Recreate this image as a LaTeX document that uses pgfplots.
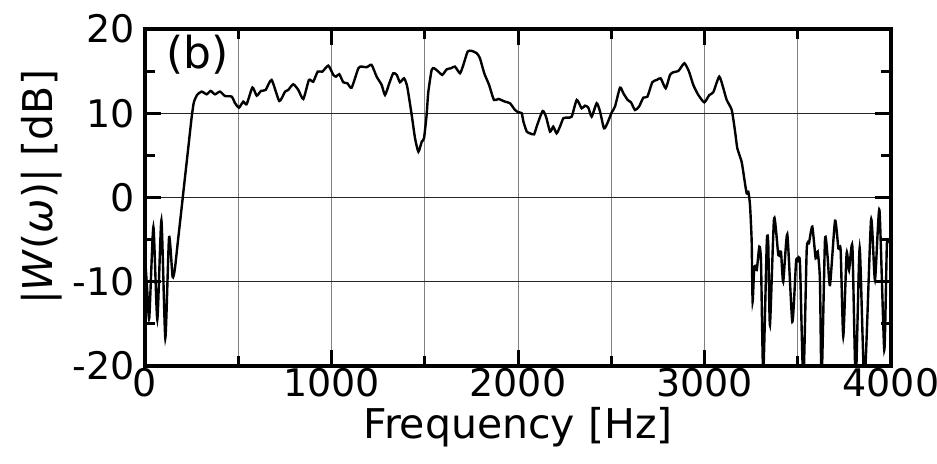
\documentclass[border=0pt]{standalone}
\usepackage{fontspec}
\setmainfont{DejaVu Sans}
\usepackage{pgfplots}
\pgfplotsset{compat=1.18}
\begin{document}
\begin{tikzpicture}
\begin{axis}[
 at={(0,0)}, anchor=south west,
 scale only axis, width=373pt, height=168.5pt,
 xmin=0, xmax=4000, ymin=-20, ymax=20,
 xtick={0,1000,2000,3000,4000},
 minor xtick={500,1500,2500,3500},
 ytick={-20,-10,0,10,20},
 minor ytick={-15,-5,5,15},
 xmajorgrids, xminorgrids, ymajorgrids,
 major grid style={black!50, line width=0.5pt},
 minor grid style={black!50, line width=0.5pt},
 y grid style={black!85},
 tick align=inside,
 major tick length=8pt, minor tick length=5pt,
 every tick/.style={black, line width=1.5pt},
 axis line style={line width=2pt},
 ticklabel style={font=\fontsize{19}{21}\selectfont},
 xticklabel style={yshift=2.5pt},
 yticklabel style={xshift=-1.5pt},
 /pgf/number format/assume math mode=true,
 /pgf/number format/1000 sep={},
 xlabel={Frequency [Hz]},
 ylabel={|\textit{W}(\textit{ω})| [dB]},
 label style={font=\fontsize{20.5}{22}\selectfont},
 xlabel style={at={(axis description cs:0.5,-0.182)}, anchor=center},
 ylabel style={at={(axis description cs:-0.138,0.53)}, anchor=center, rotate=0},
]
\addplot[black, line width=1.2pt, smooth, tension=0.35] table {
0 -7
12 -11
23 -14.3
45 -3.5
66 -14.5
88 -2.7
109 -16.7
129 -4.7
148 -9.4
160 -8.5
175 -5.5
195 -1.5
215 2.5
235 6.5
250 9.5
262 11.3
280 12.2
304 12.57
331 12.25
352 12.65
375 12.25
402 12.57
429 12.05
465 11.97
483 11.19
504 10.67
527 11.38
545 11.07
576 13.05
599 12.09
622 12.65
647 12.77
679 13.95
720 11.46
751 12.57
768 12.77
795 13.44
822 12.77
849 11.7
879 13.95
902 13.75
926 14.94
951 14.94
983 15.65
1010 14.55
1024 14.35
1042 14.63
1063 13.68
1085 13.56
1108 13.04
1144 15.34
1162 15.54
1189 15.46
1215 15.74
1242 14.35
1269 13.36
1287 12.17
1310 13.56
1331 14.75
1350 14.55
1367 13.68
1389 14.15
1406 13.16
1430 9.8
1448 7.03
1466 5.44
1484 6.63
1496 7.03
1510 9.8
1519 12.5
1537 15.14
1551 15.34
1573 14.94
1594 14.55
1618 15.22
1641 15.34
1662 15.54
1689 14.75
1707 15.74
1730 17.32
1752 17.4
1779 17.12
1796 16.53
1819 14.75
1845 13.36
1871 11.58
1895 11.7
1930 11.38
1957 11.19
1984 10.39
2002 10.12
2020 10.0
2029 9.01
2047 7.82
2064 7.62
2086 7.5
2103 8.61
2132 10.27
2150 9.6
2172 7.82
2189 8.41
2207 7.62
2225 8.41
2243 9.4
2264 9.48
2288 9.6
2315 11.58
2341 10.59
2359 10.9
2377 10.67
2395 9.6
2422 11.19
2440 10.2
2461 8.21
2479 8.81
2502 10.08
2520 10.79
2547 13.04
2565 12.37
2588 11.58
2606 11.3
2627 10.39
2649 10.79
2672 11.85
2694 11.97
2720 13.68
2744 13.95
2765 14.15
2792 12.97
2815 14.55
2833 14.87
2860 15.02
2892 15.93
2917 14.94
2940 13.36
2967 12.17
2999 11.3
3026 12.17
3047 12.49
3079 14.35
3101 12.97
3119 11.58
3146 10.39
3164 7.82
3176 5.84
3199 4.25
3213 2.28
3226 0.49
3235 0.69
3244 -0.89
3253 -5.25
3258 -12.37
3267 -8.22
3280 -8.61
3294 -5.84
3303 -7.62
3315 -21
3334 -5.25
3342 -5.64
3351 -15.14
3373 -2.47
3396 -6.83
3410 -6.44
3422 -10
3444 -4.37
3471 -14.75
3491 -7.62
3500 -7.42
3512 -7.82
3530 -22
3548 -6.24
3560 -5.44
3578 -3.46
3596 -7.22
3607 -6.43
3619 -9.8
3628 -22
3646 -5.05
3660 -7.03
3673 -10.4
3700 -2.75
3718 -6.04
3730 -6.24
3744 -16.5
3762 -6.63
3775 -8.61
3793 -5.84
3811 -22
3832 -6.0
3858 -22
3893 -2.67
3914 -9.8
3938 -1.48
3964 -18.1
3978 -5.5
3990 -5.4
};
\node[font=\fontsize{22}{24}\selectfont] at (axis cs:280,16.9) {(b)};
\end{axis}
\pgfresetboundingbox
\path[use as bounding box] (-72.5pt,-48.5pt) rectangle (396pt,183pt);
\end{tikzpicture}
\end{document}
